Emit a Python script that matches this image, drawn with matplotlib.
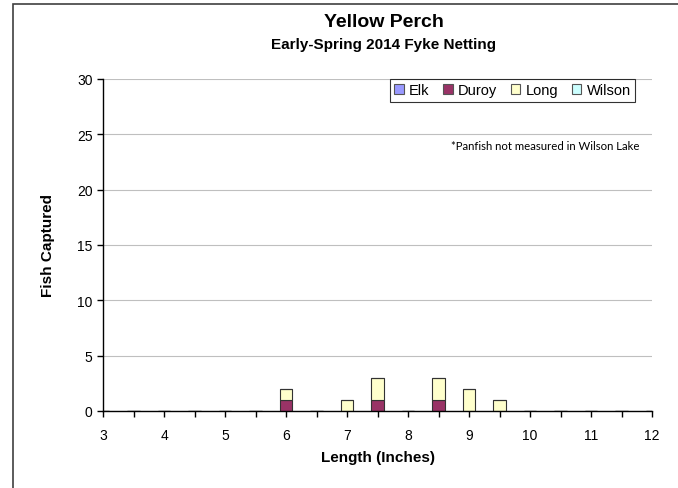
import matplotlib.pyplot as plt
from matplotlib.patches import Rectangle
import numpy as np

# data
lengths = [3.0, 3.5, 4.0, 4.5, 5.0, 5.5, 6.0, 6.5, 7.0, 7.5, 8.0, 8.5, 9.0, 9.5, 10.0, 10.5, 11.0, 11.5, 12.0]
elk = [0, 0, 0, 0, 0, 0, 0, 0, 0, 0, 0, 0, 0, 0, 0, 0, 0, 0, 0]
duroy = [0, 0, 0, 0, 0, 0, 1, 0, 0, 1, 0, 1, 0, 0, 0, 0, 0, 0, 0]
long_lake = [0, 0, 0, 0, 0, 0, 1, 0, 1, 2, 0, 2, 2, 1, 0, 0, 0, 0, 0]
wilson = [0, 0, 0, 0, 0, 0, 0, 0, 0, 0, 0, 0, 0, 0, 0, 0, 0, 0, 0]
x_labels = ['3', '4', '5', '6', '7', '8', '9', '10', '11', '12']

plt.rcParams['font.family'] = ['Liberation Sans', 'DejaVu Sans']

fig = plt.figure(figsize=(6.78, 4.89), dpi=100)
ax = fig.add_axes([0.152, 0.1575, 0.8097, 0.679])

# outer chart frame
fig.patches.append(Rectangle((13 / 678, -0.1), 1.1, 1.1 - 5 / 489, transform=fig.transFigure,
                             fill=False, edgecolor='#404040', linewidth=1.2))

series = [('Elk', elk, '#9999FF'), ('Duroy', duroy, '#993366'),
          ('Long', long_lake, '#FFFFCC'), ('Wilson', wilson, '#CCFFFF')]
bottom = np.zeros(len(lengths))
for name, vals, col in series:
    vals = np.array(vals, dtype=float)
    ax.bar(lengths, vals, width=0.2, bottom=bottom, color=col, edgecolor='#333333',
           linewidth=0.8, label=name, zorder=3)
    bottom += vals

ax.set_xlim(3, 12)
ax.set_ylim(0, 30)
ax.set_xticks(lengths)
ax.set_xticklabels([x_labels[i // 2] if i % 2 == 0 else '' for i in range(len(lengths))])
ax.set_yticks(range(0, 31, 5))
ax.tick_params(axis='both', labelsize=10, length=4, width=1, direction='out', color='black')
ax.tick_params(axis='x', pad=8)
ax.grid(axis='y', color='#BFBFBF', linewidth=0.8, zorder=0)
for s in ['top', 'right']:
    ax.spines[s].set_visible(False)
for s in ['left', 'bottom']:
    ax.spines[s].set_color('black')
    ax.spines[s].set_linewidth(1.0)
    ax.spines[s].set_zorder(4)

ax.set_xlabel('Length (Inches)', fontsize=11, fontweight='bold', labelpad=6)
ax.set_ylabel('Fish Captured', fontsize=11, fontweight='bold', labelpad=16)

fig.text(0.566, 0.955, 'Yellow Perch', ha='center', va='center', fontsize=14, fontweight='bold')
fig.text(0.566, 0.907, 'Early-Spring 2014 Fyke Netting', ha='center', va='center',
         fontsize=11, fontweight='bold')

leg = ax.legend(loc='upper right', bbox_to_anchor=(0.969, 1.0), borderaxespad=0, ncol=4,
                fontsize=10.5, frameon=True, fancybox=False, edgecolor='black',
                handlelength=0.65, handleheight=0.65, handletextpad=0.35, columnspacing=0.95,
                borderpad=0.3)
leg.get_frame().set_linewidth(0.8)
for h in leg.legend_handles:
    h.set_edgecolor('#555555')

ax.text(0.805, 0.80, '*Panfish not measured in Wilson Lake', transform=ax.transAxes,
        ha='center', va='center', fontsize=8.2, family=['Lato', 'DejaVu Sans'])

plt.savefig('out.png', dpi=100)
